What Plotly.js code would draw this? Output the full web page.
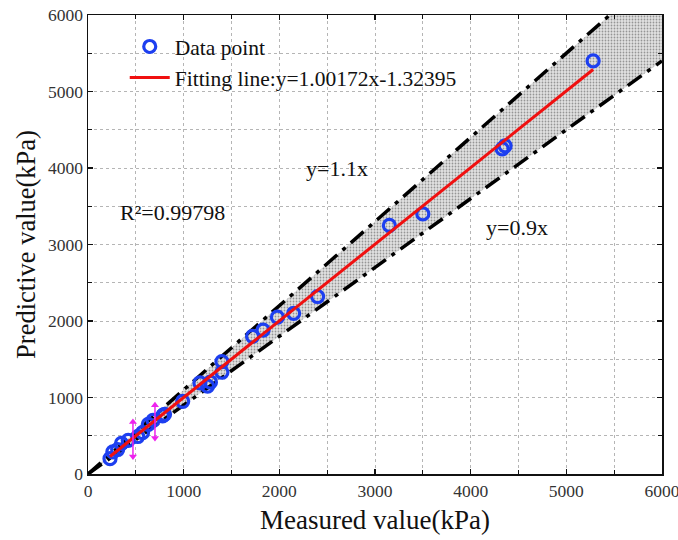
<!DOCTYPE html>
<html>
<head>
<meta charset="utf-8">
<script src="https://cdn.plot.ly/plotly-3.0.1.min.js"></script>
<style>html,body{margin:0;padding:0;background:#fff;}#chart{width:678px;height:540px;}</style>
</head>
<body>
<div id="chart"></div>
<script>
// Data points (measured, predicted)
const measured  = [230, 260, 310, 350, 420, 520, 570, 630, 680, 780, 800, 990, 1170, 1250, 1280, 1400, 1400, 1720, 1830, 1980, 2150, 2400, 3150, 3500, 4330, 4360, 5280];
const predicted = [200, 290, 320, 400, 440, 490, 540, 650, 700, 760, 780, 950, 1190, 1150, 1200, 1330, 1470, 1800, 1880, 2050, 2100, 2320, 3250, 3400, 4250, 4290, 5400];

// Fitting line
const fitSlope = 1.00172;
const fitIntercept = -1.32395;
const fitX = [230, 5280];

// Bounds
const boundX = [0, 6000];
const upperFactor = 1.1;
const lowerFactor = 0.9;

// Magenta error arrows
const errX1 = [470, 470];
const errY1 = [680, 230];
const errX2 = [700, 700];
const errY2 = [900, 470];

// Axis ticks
const tickVals = [0, 1000, 2000, 3000, 4000, 5000, 6000];
const tickText = ['0', '1000', '2000', '3000', '4000', '5000', '6000'];

const serif = 'Liberation Serif, Times New Roman, serif';

const traces = [
  {x: boundX, y: boundX.map(v => v * lowerFactor), mode: 'lines', showlegend: false, hoverinfo: 'skip',
   line: {color: '#000', width: 3.5, dash: '17px,7px,4px,7px'}},
  {x: boundX, y: boundX.map(v => v * upperFactor), mode: 'lines', showlegend: false, hoverinfo: 'skip',
   fill: 'tonexty', fillcolor: '#d8d8d8',
   fillpattern: {shape: '.', bgcolor: '#e2e2e2', fgcolor: '#959595', size: 3, solidity: 0.28},
   line: {color: '#000', width: 3.5, dash: '17px,7px,4px,7px'}},
  {x: measured, y: predicted, mode: 'markers', name: 'Data point',
   marker: {symbol: 'circle-open', size: 12, color: '#1d3ff0', line: {width: 3.2, color: '#1d3ff0'}}},
  {x: fitX, y: fitX.map(v => fitSlope * v + fitIntercept), mode: 'lines',
   name: 'Fitting line:y=1.00172x-1.32395', line: {color: '#f01010', width: 3}},
  {x: errX1, y: errY1, mode: 'lines+markers', showlegend: false,
   line: {color: '#ee22ee', width: 1.5},
   marker: {symbol: ['triangle-up', 'triangle-down'], size: 7, color: '#ee22ee'}},
  {x: errX2, y: errY2, mode: 'lines+markers', showlegend: false,
   line: {color: '#ee22ee', width: 1.5},
   marker: {symbol: ['triangle-up', 'triangle-down'], size: 7, color: '#ee22ee'}}
];

const axisCommon = {
  range: [0, 6000], tickvals: tickVals, ticktext: tickText,
  showline: true, linecolor: '#111', linewidth: 1.5, mirror: 'allticks',
  ticks: 'inside', ticklen: 5, tickwidth: 1.2, tickcolor: '#111',
  showgrid: true, gridcolor: '#b5b5b5', griddash: '3px,3px', gridwidth: 1,
  zeroline: false, automargin: false, ticklabeloverflow: 'allow',
  minor: {dtick: 500, ticks: 'inside', ticklen: 4, tickcolor: '#111', showgrid: true, gridcolor: '#b5b5b5', griddash: '3px,3px'},
  tickfont: {family: serif, size: 17.5, color: '#333'}
};

const layout = {
  width: 678, height: 540,
  margin: {l: 88, r: 16, t: 15, b: 66},
  paper_bgcolor: '#fff', plot_bgcolor: '#fff',
  showlegend: true,
  legend: {x: 0.064, y: 0.976, xanchor: 'left', yanchor: 'top', bgcolor: 'rgba(0,0,0,0)', traceorder: 'normal',
           font: {family: serif, size: 21.5, color: '#111'}, tracegroupgap: 0, itemwidth: 40},
  xaxis: Object.assign({}, axisCommon, {
    title: {text: 'Measured value(kPa)', font: {family: serif, size: 27, color: '#111'}, standoff: 10}
  }),
  yaxis: Object.assign({}, axisCommon, {
    title: {text: 'Predictive value(kPa)', font: {family: serif, size: 26.5, color: '#111'}, standoff: 4}
  }),
  annotations: [
    {x: 2600, y: 4000, text: 'y=1.1x', showarrow: false, font: {family: serif, size: 22, color: '#111'}},
    {x: 880, y: 3420, text: 'R²=0.99798', showarrow: false, font: {family: serif, size: 22, color: '#111'}},
    {x: 4480, y: 3220, text: 'y=0.9x', showarrow: false, font: {family: serif, size: 22, color: '#111'}}
  ]
};

Plotly.newPlot('chart', traces, layout, {displayModeBar: false, staticPlot: true});
</script>
</body>
</html>
